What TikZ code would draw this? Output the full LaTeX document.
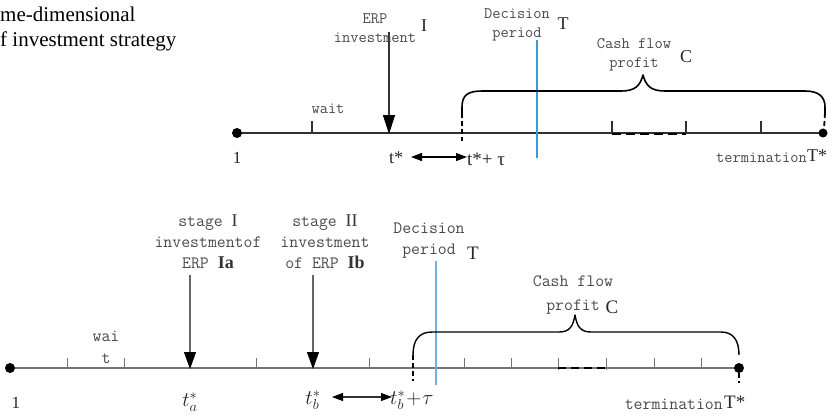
\documentclass[tikz,border=0pt]{standalone}
\usepackage{fontspec}
\setmainfont{Liberation Serif}
\usetikzlibrary{arrows.meta}
\definecolor{txtgray}{HTML}{4A4A4A}
\definecolor{axisdark}{HTML}{303030}
\definecolor{axisgray}{HTML}{757575}
\definecolor{decblue}{HTML}{3A9AD9}
\definecolor{decbluelight}{HTML}{6CB4E6}

\begin{document}
\begin{tikzpicture}[x=1pt,y=-1pt,
  monotop/.style={font=\ttfamily\fontsize{16}{19.5}\selectfont, text=txtgray, inner sep=0pt, align=center},
  monobot/.style={font=\ttfamily\fontsize{17.3}{21}\selectfont, text=txtgray, inner sep=0pt, align=center},
  sym/.style={font=\fontsize{18}{18}\selectfont, inner sep=0pt, text=black!85},
  caption/.style={font=\fontsize{21}{21}\selectfont, inner sep=0pt, anchor=base west},
  axistop/.style={draw=axisdark, line width=2pt},
  axisbot/.style={draw=axisgray, line width=1.4pt},
  ticktop/.style={draw=axisdark, line width=1.3pt},
  tickbot/.style={draw=axisgray, line width=1pt},
  downarrow/.style={draw=black!80, line width=1.3pt, -{Triangle[length=19pt,width=12pt,color=black]}},
  downarrowbot/.style={draw=black!60, line width=1.1pt, -{Triangle[length=17pt,width=12pt,color=black]}},
  spanarrow/.style={draw=black, line width=1.3pt, {Triangle[length=11pt,width=8pt]}-{Triangle[length=11pt,width=8pt]}},
  spanarrowbot/.style={draw=black!80, line width=1.1pt, {Triangle[length=11pt,width=8pt,color=black]}-{Triangle[length=11pt,width=8pt,color=black]}},
  bracepath/.style={draw=black, line width=1.6pt, line join=round},
  gapdash/.style={draw=black, line width=2.4pt, dash pattern=on 9pt off 5pt},
  enddash/.style={draw=black, line width=1.8pt, dash pattern=on 5pt off 3pt},
  endpoint/.style={fill=black}
]
\useasboundingbox (0,0) rectangle (839,416);

% ---------- heading lines ----------
\node[caption] (cap1) at (0,21) {me-dimensional};
\node[caption] (cap2) at (0,46) {f investment strategy};

% ================= one-stage timeline =================
\coordinate (A0) at (237,133);
\coordinate (A1) at (823,133);
\draw[axistop] (A0) -- (A1);
\fill[endpoint] (A0) circle (5pt);
\fill[endpoint] (A1) circle (4.5pt);

% ticks
\foreach \x/\n in {312/w,537/d,686/q,761/r}{
  \coordinate (At\n) at (\x,133);
  \draw[ticktop] (At\n) -- ++(0,-12);
}
\coordinate (AgapL) at (612,134);
\coordinate (AgapR) at (686,134);
\draw[ticktop] (612,121) -- (AgapL);
\draw[gapdash] (AgapL) -- (AgapR);

% investment arrow
\coordinate (Ainvtop) at (389,32);
\coordinate (Ainv) at (389,134);
\draw[downarrow] (Ainvtop) -- (Ainv);

% decision period marker
\coordinate (Adectop) at (537,40);
\coordinate (Adecbot) at (537,158);
\draw[decblue, line width=1.2pt] (Adectop) -- (Adecbot);

% start of cash flow
\coordinate (Acf) at (462,113);
\coordinate (Acfbot) at (462,141);
\draw[enddash] (Acf) -- (Acfbot);
\coordinate (Acfend) at (825,113);
\draw[enddash] (Acfend) -- (824,129);

% brace over the cash flow period
\draw[bracepath] (Acf) -- (462,107) .. controls (462,95) and (468,91) .. (482,91)
  -- (621,91) .. controls (635,91) and (640,86) .. (643,75)
  .. controls (646,86) and (651,91) .. (665,91)
  -- (805,91) .. controls (819,91) and (825,97) .. (825,107) -- (Acfend);

% labels
\node[monotop] (Lerp) at (375,28) {ERP\\investment};
\node[sym] (LI) at (424,26) {I};
\node[monotop] (Ldec) at (517,25) {Decision\\period};
\node[sym] (LT) at (563,24) {T};
\node[monotop] (Lcash) at (634,55) {Cash flow\\profit};
\node[sym] (LC) at (686,57) {C};
\node[monotop] (Lwait) at (328,109) {wait};
\node[sym, font=\fontsize{17}{17}\selectfont] (Lone) at (237,158) {1};
\node[sym] (Ltstar) at (396,158) {t*};
\coordinate (AspanL) at (411,157);
\coordinate (AspanR) at (467,157);
\draw[spanarrow] (AspanL) -- (AspanR);
\node[sym, anchor=west, font=\fontsize{19}{19}\selectfont] (Ltau) at (467,159) {t*+ τ};
\node[monotop, anchor=east] (Lterm) at (807,158) {termination};
\node[sym, anchor=west] (LTstar) at (807,156) {T*};

% ================= two-stage timeline =================
\coordinate (B0) at (10,368);
\coordinate (B1) at (739,368);
\draw[axisbot] (B0) -- (B1);
\fill[endpoint] (B0) circle (5pt);
\fill[endpoint] (B1) circle (5pt);

\foreach \x/\n in {67/a,124/b,256/c,369/d,464/e,511/f,654/g,701/h}{
  \coordinate (Bt\n) at (\x,368);
  \draw[tickbot] (Bt\n) -- ++(0,-10);
}
\coordinate (BgapL) at (558,368);
\coordinate (BgapR) at (606,368);
\draw[tickbot] (558,358) -- (558,370);
\draw[tickbot] (606,358) -- (606,370);
\draw[gapdash, line width=2pt, dash pattern=on 8pt off 5pt] (BgapL) -- (BgapR);

% investment arrows
\coordinate (Batop) at (190,275);
\coordinate (Ba) at (190,369);
\draw[downarrowbot] (Batop) -- (Ba);
\coordinate (Bbtop) at (313,275);
\coordinate (Bb) at (313,369);
\draw[downarrowbot] (Bbtop) -- (Bb);

% decision period marker
\coordinate (Bdectop) at (436,261);
\coordinate (Bdecbot) at (436,385);
\draw[decbluelight, line width=1.3pt] (Bdectop) -- (Bdecbot);

% start and end of cash flow
\coordinate (Bcf) at (413,355);
\coordinate (Bcfbot) at (413,381);
\draw[enddash, line width=1.5pt] (Bcf) -- (Bcfbot);
\coordinate (Bcfend) at (739,355);
\coordinate (Bendbot) at (739,383);
\draw[enddash, line width=1.5pt] (739,373) -- (Bendbot);

\draw[bracepath, line width=1.4pt] (Bcf) .. controls (413,340) and (419,332) .. (432,332)
  -- (559,332) .. controls (570,332) and (573,326) .. (575,315)
  .. controls (577,326) and (580,332) .. (591,332)
  -- (721,332) .. controls (733,332) and (739,340) .. (Bcfend);

% labels
\node[monobot] (Lst1) at (208,242) {stage {\rmfamily\fontsize{18}{21}\selectfont\color{black!80}I}\\investmentof\\ERP {\rmfamily\fontsize{18}{21}\selectfont\bfseries\color{black!80}Ia}};
\node[monobot] (Lst2) at (325,242) {stage {\rmfamily\fontsize{18}{21}\selectfont\color{black!80}II}\\investment\\of ERP {\rmfamily\fontsize{18}{21}\selectfont\bfseries\color{black!80}Ib}};
\node[monobot] (Ldec2) at (429,241) {Decision\\period};
\node[sym, font=\fontsize{19}{19}\selectfont] (LT2) at (473,253) {T};
\node[monobot, font=\ttfamily\fontsize{17.3}{24}\selectfont] (Lcash2) at (573,295) {Cash flow\\profit};
\node[sym, font=\fontsize{19}{19}\selectfont] (LC2) at (612,307) {C};
\node[monobot, font=\ttfamily\fontsize{17.3}{22}\selectfont] (Lwait2) at (106,347) {wai\\t};
\node[sym, font=\fontsize{17}{17}\selectfont] (Lone2) at (16,403) {1};
\node[sym, font=\fontsize{21}{21}\selectfont] (Lta) at (190,402) {$t^*_a$};
\node[sym, font=\fontsize{21}{21}\selectfont] (Ltb) at (313,400) {$t^*_b$};
\coordinate (BspanL) at (332,397);
\coordinate (BspanR) at (392,397);
\draw[spanarrowbot] (BspanL) -- (BspanR);
\node[sym, anchor=west, font=\fontsize{21}{21}\selectfont] (Ltbtau) at (390,400) {$t^*_b\!+\!\tau$};
\node[monobot, anchor=east] (Lterm2) at (723,404) {termination};
\node[sym, anchor=west, font=\fontsize{19}{19}\selectfont] (LTstar2) at (724,402) {T*};
\end{tikzpicture}
\end{document}
